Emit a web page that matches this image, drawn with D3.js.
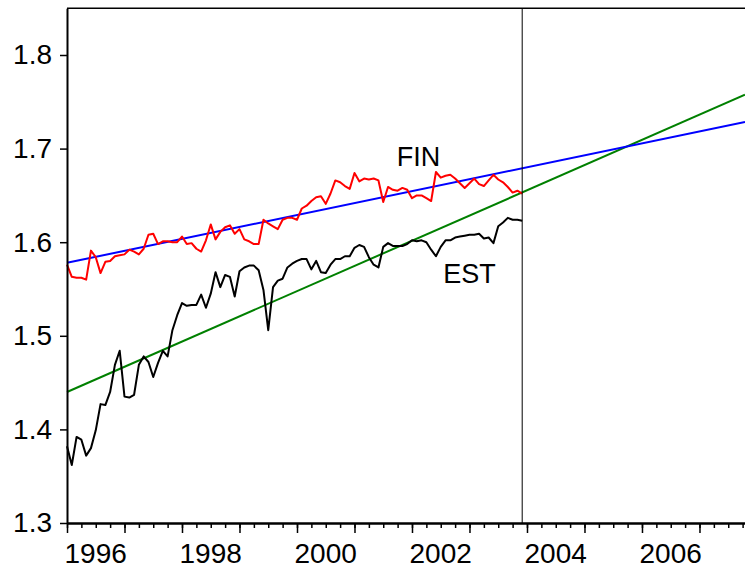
<!DOCTYPE html>
<html>
<head>
<meta charset="utf-8">
<script src="https://cdn.jsdelivr.net/npm/d3@7"></script>
<style>
  body{margin:0;background:#fff;}
  svg{display:block;}
  text{font-family:Arial,"Liberation Sans",sans-serif;}
</style>
</head>
<body>
<svg id="mainSVG" width="745" height="570"></svg>
<script>
// monthly obs, Jan 1996 .. Dec 2003 (index 0 = 1996m1)
var fin = [1.576,1.563,1.562,1.562,1.560,1.591,1.584,1.567,1.579,1.580,1.585,1.586,
           1.587,1.592,1.590,1.587,1.593,1.608,1.609,1.598,1.601,1.601,1.600,1.600,
           1.606,1.598,1.599,1.593,1.590,1.602,1.619,1.603,1.611,1.616,1.618,1.609,
           1.614,1.603,1.601,1.598,1.598,1.624,1.620,1.617,1.614,1.624,1.626,1.626,
           1.624,1.636,1.639,1.644,1.648,1.649,1.641,1.652,1.666,1.664,1.660,1.657,
           1.674,1.665,1.668,1.667,1.668,1.666,1.643,1.659,1.656,1.655,1.658,1.656,
           1.647,1.650,1.650,1.647,1.644,1.675,1.669,1.671,1.672,1.668,1.663,1.658,
           1.663,1.668,1.662,1.660,1.666,1.672,1.667,1.664,1.659,1.653,1.655,1.652];
var est = [1.382,1.362,1.392,1.389,1.372,1.380,1.399,1.427,1.426,1.440,1.469,1.484,
           1.435,1.434,1.437,1.469,1.478,1.472,1.456,1.471,1.484,1.478,1.506,1.522,
           1.535,1.532,1.533,1.533,1.544,1.530,1.545,1.568,1.552,1.565,1.563,1.542,
           1.569,1.573,1.575,1.575,1.570,1.549,1.506,1.552,1.559,1.561,1.573,1.577,
           1.580,1.582,1.582,1.571,1.580,1.568,1.567,1.576,1.582,1.582,1.585,1.585,
           1.594,1.597,1.595,1.584,1.576,1.573,1.595,1.599,1.596,1.596,1.596,1.598,
           1.602,1.601,1.602,1.600,1.592,1.585,1.595,1.602,1.602,1.605,1.606,1.607,
           1.608,1.608,1.609,1.604,1.605,1.599,1.617,1.621,1.626,1.624,1.624,1.623];
// linear trends, start and end of the plotted range
var trendMonths = [0, 141.5];
var finTrend = [1.578, 1.7285];
var estTrend = [1.440, 1.7575];
var lastObs = 95;
var startYear = 1996;
var yTicks = [1.3, 1.4, 1.5, 1.6, 1.7, 1.8];
var yearLabels = [1996, 1998, 2000, 2002, 2004, 2006];
var seriesLabels = [{name:'FIN', month:68.8, value:1.681}, {name:'EST', month:78.5, value:1.556}];

var svg = d3.select('#mainSVG');
// (window.top is read only, so no "top" here)
var left = 67, right = 745, plotTop = 8.2, bottom = 523;

var x = d3.scaleLinear().domain([0, 141.5]).range([left, right]);
var y = d3.scaleLinear().domain([1.3, 1.85]).range([bottom, plotTop]);

var line = d3.line()
  .x(function(d){ return x(d[0]); })
  .y(function(d){ return y(d[1]); });

function pairs(vals, months){
  return vals.map(function(v, i){ return [months ? months[i] : i, v]; });
}

// trends first, data on top
svg.append('path').datum(pairs(estTrend, trendMonths))
  .attr('d', line).attr('fill', 'none').attr('stroke', '#008000').attr('stroke-width', 2);
svg.append('path').datum(pairs(finTrend, trendMonths))
  .attr('d', line).attr('fill', 'none').attr('stroke', '#0000ff').attr('stroke-width', 2);
svg.append('path').datum(pairs(fin))
  .attr('d', line).attr('fill', 'none').attr('stroke', '#ff0000').attr('stroke-width', 2)
  .attr('stroke-linejoin', 'round');
svg.append('path').datum(pairs(est))
  .attr('d', line).attr('fill', 'none').attr('stroke', '#000').attr('stroke-width', 2)
  .attr('stroke-linejoin', 'round');

// end of sample marker
svg.append('line')
  .attr('x1', x(lastObs)).attr('x2', x(lastObs))
  .attr('y1', plotTop).attr('y2', bottom)
  .attr('stroke', '#000').attr('stroke-width', 1);

// frame top
svg.append('line').attr('x1', left).attr('x2', right).attr('y1', plotTop).attr('y2', plotTop)
  .attr('stroke', '#000').attr('stroke-width', 1.5);

// y axis
var yAxis = svg.append('g')
  .attr('transform', 'translate(' + left + ',0)')
  .call(d3.axisLeft(y).tickValues(yTicks).tickFormat(d3.format('.1f')).tickSize(7).tickPadding(8).tickSizeOuter(0));
yAxis.select('.domain').attr('stroke-width', 2);
yAxis.selectAll('.tick line').attr('stroke-width', 1.5);
yAxis.selectAll('text').attr('font-size', 28).attr('fill', '#000')
  .attr('font-family', 'Arial, "Liberation Sans", sans-serif');

// x axis: quarter ticks + year ticks
var quarters = d3.range(0, 142, 3);
var years = d3.range(0, 142, 12);
var xq = svg.append('g')
  .attr('transform', 'translate(0,' + bottom + ')')
  .call(d3.axisBottom(x).tickValues(quarters).tickSize(5).tickFormat('').tickSizeOuter(0));
xq.select('.domain').attr('stroke-width', 2.5);
xq.selectAll('.tick line').attr('stroke-width', 1.5);

var xy = svg.append('g')
  .attr('transform', 'translate(0,' + bottom + ')')
  .call(d3.axisBottom(x).tickValues(years).tickSize(10).tickSizeOuter(0)
    .tickFormat(function(d){
      var yr = startYear + d / 12;
      return yearLabels.indexOf(yr) >= 0 ? yr : '';
    }));
xy.select('.domain').remove();
xy.selectAll('.tick line').attr('stroke-width', 1.5);
xy.selectAll('text')
  .attr('font-size', 28).attr('fill', '#000')
  .attr('font-family', 'Arial, "Liberation Sans", sans-serif')
  .attr('text-anchor', 'start')
  .attr('x', -3).attr('y', 20).attr('dy', '0.71em');

// series names
svg.selectAll('text.lbl')
  .data(seriesLabels).enter()
  .append('text').attr('class', 'lbl')
  .attr('x', function(d){ return x(d.month); })
  .attr('y', function(d){ return y(d.value); })
  .attr('font-size', 27)
  .attr('fill', '#000')
  .text(function(d){ return d.name; });
</script>
</body>
</html>
